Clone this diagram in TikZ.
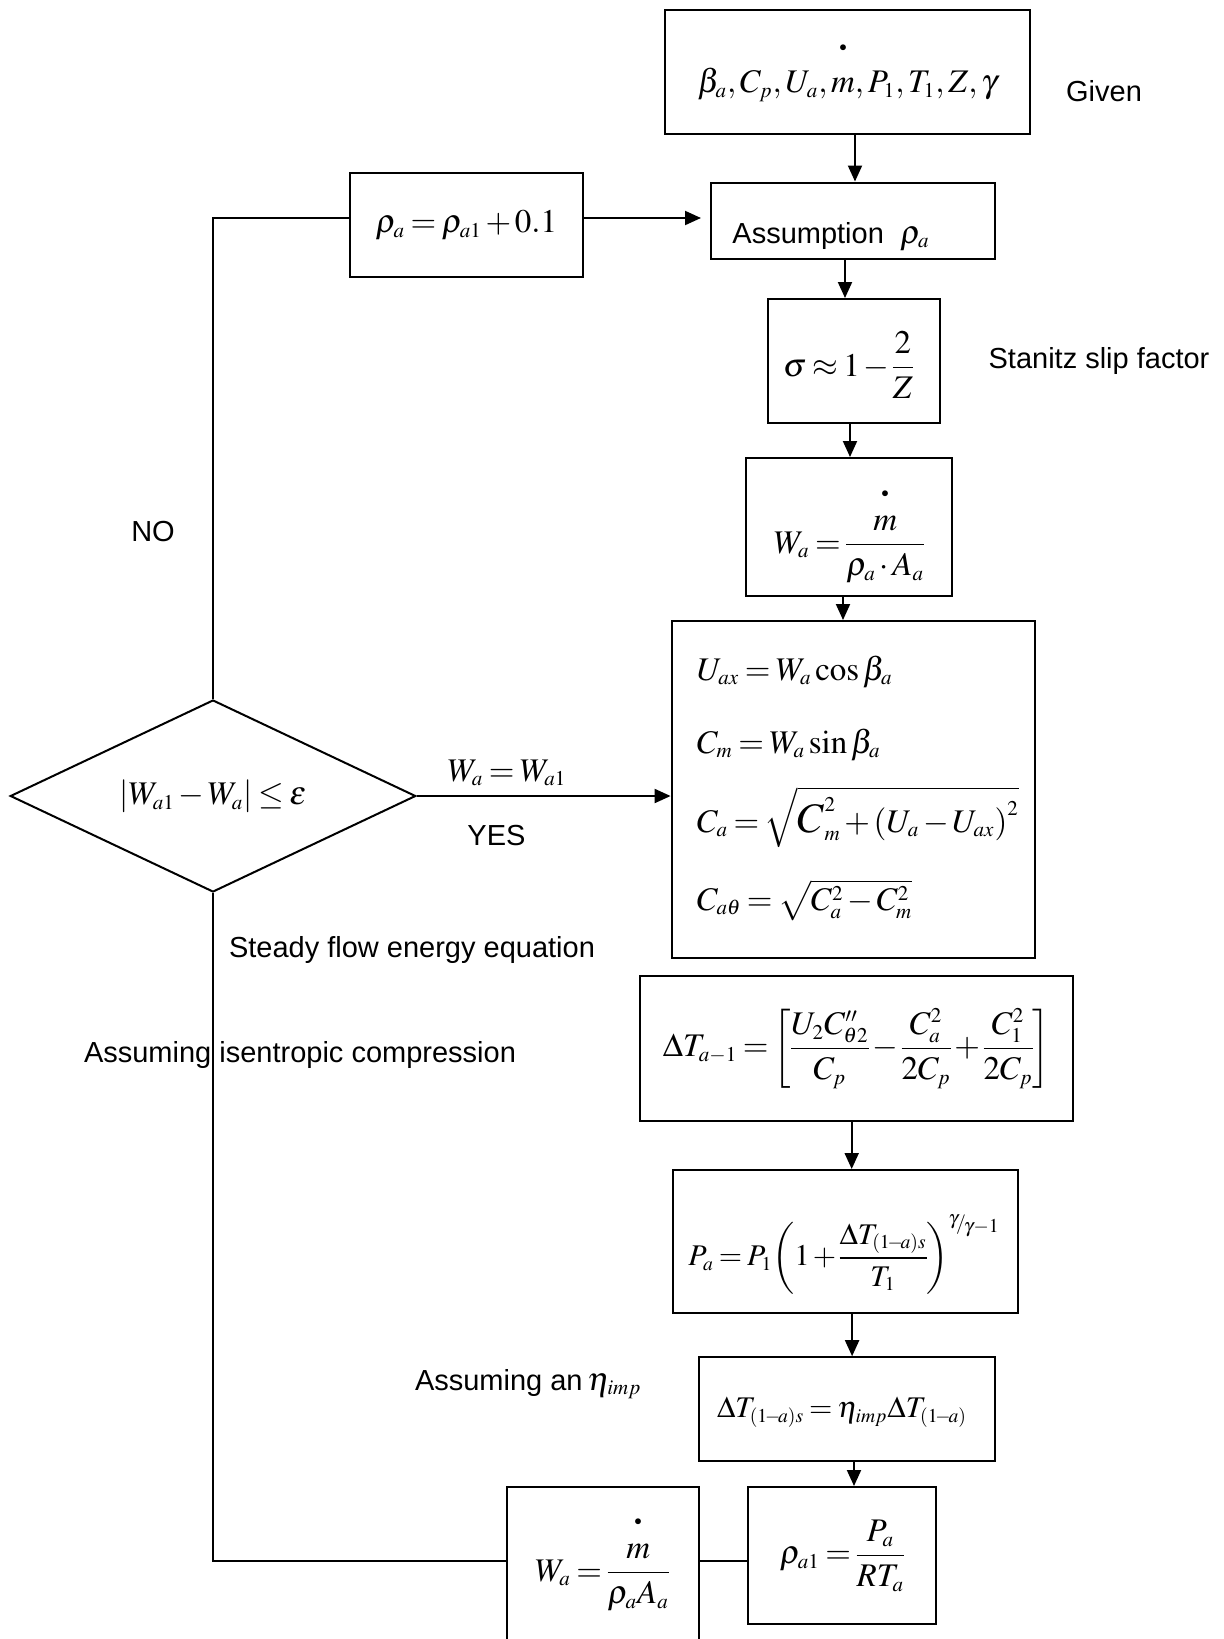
\documentclass[tikz,border=0pt]{standalone}
\usepackage{amsmath}
\usepackage{mathptmx}
\usepackage[no-math]{fontspec}
\newfontfamily\arialf{Liberation Sans}
\usetikzlibrary{shapes.geometric,arrows.meta}
\DeclareMathSizes{16.5}{16.5}{10.5}{7.5}
\DeclareMathSizes{15}{15}{9.8}{7}
\thickmuskip=3mu plus 2mu
\medmuskip=2mu plus 1mu minus 1mu
\nulldelimiterspace=0pt
\newcommand{\mdt}[1]{\overset{\raisebox{#1}{$\scriptscriptstyle\bullet$}}{m}}
\begin{document}
\begin{tikzpicture}[x=0.5pt,y=-0.5pt,
  box/.style={draw, line width=1pt, rectangle, inner sep=0pt, font=\fontsize{16.5}{20}\selectfont},
  lbl/.style={font=\arialf\fontsize{14.5}{17}\selectfont, inner sep=0pt},
  eqn/.style={font=\fontsize{16.5}{20}\selectfont, inner sep=0pt},
  seqn/.style={font=\fontsize{15}{18}\selectfont, inner sep=0pt},
  arr/.style={line width=1pt, -{Triangle[length=8pt,width=7pt]}},
  ln/.style={line width=1pt}]
\clip (0,0) rectangle (1224,1639);
\fill[white] (0,0) rectangle (1224,1639);

% boxes
\node[box, minimum width=182.5pt, minimum height=62pt] (given) at (847.5,72) {$\beta_a, C_p, U_a, \mdt{10pt}, P_1, T_1, Z, \gamma$};
\node[box, minimum width=142pt, minimum height=38pt] (assume) at (853,220.5) {};
\node[lbl, anchor=base west] (assumetxt) at (732,243) {Assumption\ \ {\fontsize{16.5}{20}\selectfont$\rho_a$}};
\node[box, minimum width=86pt, minimum height=62pt] (sigma) at (854,361) {};
\node[eqn, anchor=base] (sigmaeq) at (848,376) {$\sigma \approx 1-\dfrac{2}{Z}$};
\node[box, minimum width=103.3pt, minimum height=69pt] (wa) at (849,527) {};
\node[eqn, anchor=base] (waeq) at (849,553) {$W_a = \dfrac{\mdt{6pt}}{\rho_a\cdot A_a}$};
\node[box, minimum width=181.7pt, minimum height=168.5pt] (big) at (853.3,789.5) {};
\node[eqn, anchor=base west] (l1) at (696.7,680) {$U_{ax} = W_a\cos\beta_a$};
\node[eqn, anchor=base west] (l2) at (696.7,753) {$C_m = W_a\sin\beta_a$};
\node[eqn, anchor=base west] (l3) at (696.7,832) {$C_a = \sqrt{\mbox{\fontsize{21}{21}\selectfont$C$}_m^2+\left(U_a-U_{ax}\right)^2}$};
\node[eqn, anchor=base west] (l4) at (696.7,910) {$C_{a\theta} = \sqrt{C_a^2-C_m^2}$};
\node[box, minimum width=216.5pt, minimum height=72.5pt] (dT) at (856.5,1048.3) {$\Delta T_{a-1} = \biggl[\dfrac{U_2C''_{\theta 2}}{C_p} - \dfrac{C_a^2}{2C_p} + \dfrac{C_1^2}{2C_p}\biggr]$};
\node[box, minimum width=172.7pt, minimum height=71.3pt] (Pa) at (845.3,1241.3) {};
\node[seqn, anchor=base] (Paeq) at (844,1265.5) {$P_a = P_1\biggl(1+\dfrac{\Delta T_{(1\!-\!a)s}}{T_1}\biggr)^{\raisebox{2.5pt}{$\scriptstyle\gamma$}\mkern-2mu/\mkern-2mu\raisebox{-1.5pt}{$\scriptstyle\gamma-1$}}$};
\node[box, minimum width=148pt, minimum height=51.8pt] (dTs) at (847,1409) {};
\node[seqn, anchor=base] (dTseq) at (842,1417.7) {$\Delta T_{(1\!-\!a)s} = \eta_{imp}\Delta T_{(1\!-\!a)}$};
\node[box, minimum width=94pt, minimum height=68.5pt] (rho1) at (842,1555.5) {$\rho_{a1} = \dfrac{P_a}{RT_a}$};
\node[box, minimum width=96pt, minimum height=86.5pt] (wa2) at (603,1573.5) {};
\node[eqn, anchor=base] (wa2eq) at (602,1581) {$W_a = \dfrac{\mdt{6pt}}{\rho_a A_a}$};
\node[box, minimum width=116.7pt, minimum height=52pt] (rho) at (466.3,225) {$\rho_a = \rho_{a1}+0.1$};
\node[draw, line width=1pt, diamond, aspect=2.11, minimum width=202.75pt, minimum height=96pt, inner sep=0pt, font=\fontsize{16.5}{20}\selectfont] (dia) at (213,796) {$\left|W_{a1}-W_a\right|\le\varepsilon$};

% labels
\node[lbl, anchor=base] (givenlbl) at (1104,101.7) {Given};
\node[lbl, anchor=base] (stan) at (1099,368) {Stanitz slip factor};
\node[lbl, anchor=base] (no) at (153,541.5) {NO};
\node[lbl, anchor=base] (yes) at (496.5,845.7) {YES};
\node[eqn, anchor=base] (weq) at (507,781) {$W_a = W_{a1}$};
\node[lbl, anchor=base] (sfe) at (412,957) {Steady flow energy equation};
\node[lbl, anchor=base] (aic) at (300,1062.7) {Assuming isentropic compression};
\node[lbl, anchor=base west] (aeta) at (414.6,1390) {Assuming an\,{\fontsize{16.5}{20}\selectfont$\eta_{imp}$}};

% connectors
\draw[arr] ([xshift=3.75pt]given.south) -- ([xshift=3.75pt]given.south |- assume.north);
\draw[arr] ([xshift=-4pt]assume.south) -- ([xshift=-4pt]assume.south |- sigma.north);
\draw[arr] ([xshift=-2pt]sigma.south) -- ([xshift=-2pt]sigma.south |- wa.north);
\draw[arr] ([xshift=-3pt]wa.south) -- ([xshift=-3pt]wa.south |- big.north);
\draw[arr] ([xshift=-2.4pt]dT.south) -- ([xshift=-2.4pt]dT.south |- Pa.north);
\draw[arr] ([xshift=3.4pt]Pa.south) -- ([xshift=3.4pt]Pa.south |- dTs.north);
\draw[arr] ([xshift=3.5pt]dTs.south) -- ([xshift=3.5pt]dTs.south |- rho1.north);

\coordinate (c1) at (214,218);
\coordinate (c2) at (214,1561);
\draw[ln] (dia.north) -- (dia.north |- c1) -- (c1 -| rho.west);
\draw[arr, shorten >=4.5pt] (c1 -| rho.east) -- (c1 -| assume.west);
\draw[arr] (dia.east) -- (dia.east -| big.west);
\draw[ln] (dia.south) -- (dia.south |- c2) -- (c2 -| wa2.west);
\draw[ln] (c2 -| wa2.east) -- (c2 -| rho1.west);
\end{tikzpicture}
\end{document}
